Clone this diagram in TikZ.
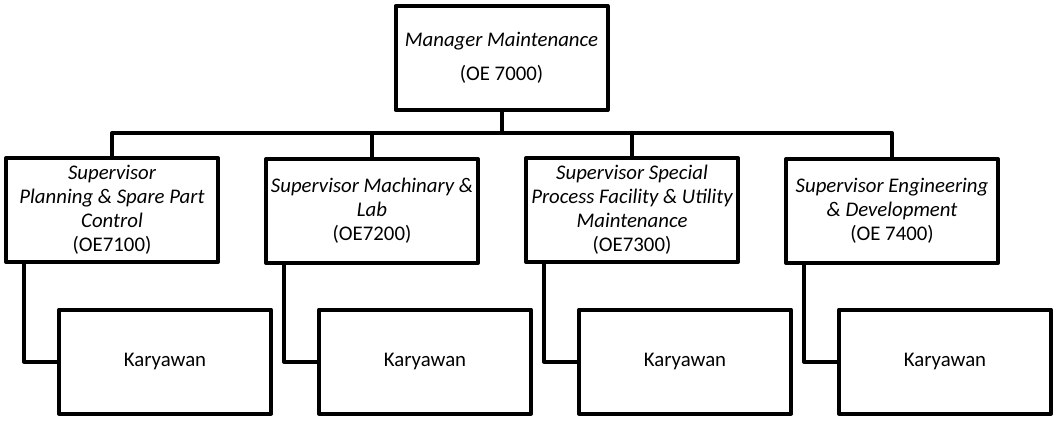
\documentclass[tikz,border=0pt]{standalone}
\usepackage{fontspec}
\setmainfont{Carlito}
\usetikzlibrary{calc}
\begin{document}
\begin{tikzpicture}[x=1pt,y=1pt,
  box/.style={draw, line width=4pt, line join=round, minimum width=212pt, minimum height=104pt,
    inner sep=0pt, align=center, font=\fontsize{20.8}{24}\selectfont},
  conn/.style={draw, line width=4pt, line join=round}]
\useasboundingbox (0,0) rectangle (1057,-421);
\node[box] (top) at (501.5,-58) {\itshape Manager Maintenance\\[10pt](OE 7000)};
\node[box] (s1) at (112,-210) {\itshape Supervisor\\\itshape Planning \& Spare Part\\\itshape Control\\(OE7100)};
\node[box] (s2) at (372,-211) {\itshape Supervisor Machinary \&\\\itshape Lab\\(OE7200)};
\node[box] (s3) at (632,-210) {\itshape Supervisor Special\\\itshape Process Facility \& Utility\\\itshape Maintenance\\(OE7300)};
\node[box] (s4) at (892,-211) {\itshape Supervisor Engineering\\\itshape \& Development\\(OE 7400)};
\node[box] (k1) at (165,-361.5) {Karyawan};
\node[box] (k2) at (425,-361.5) {Karyawan};
\node[box] (k3) at (685,-361.5) {Karyawan};
\node[box] (k4) at (945,-361.5) {Karyawan};
\coordinate (bus) at (0,-133);
\draw[conn] (top.south) -- (top.south |- bus);
\draw[conn] (s1.north) -- (s1.north |- bus) -- (s4.north |- bus) -- (s4.north);
\draw[conn] (s2.north) -- (s2.north |- bus);
\draw[conn] (s3.north) -- (s3.north |- bus);
\foreach \i in {1,2,3,4}{
  \draw[conn] ($(s\i.south west)+(20,0)$) |- (k\i.west);
}
\end{tikzpicture}
\end{document}
